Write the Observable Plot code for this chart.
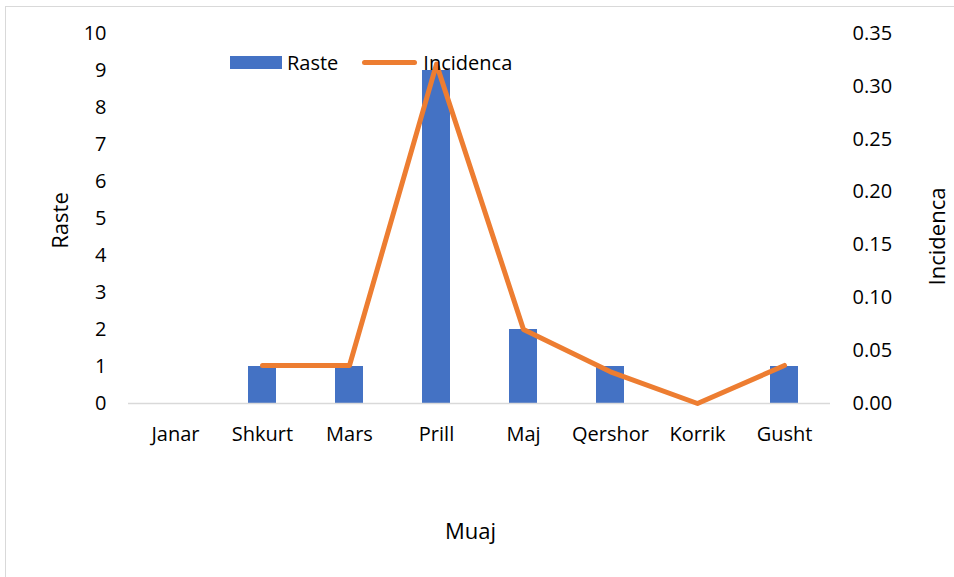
<!DOCTYPE html>
<html>
<head>
<meta charset="utf-8">
<script src="https://cdn.jsdelivr.net/npm/d3@7"></script>
<script src="https://cdn.jsdelivr.net/npm/@observablehq/plot@0.6"></script>
<style>
  html, body { margin: 0; padding: 0; background: #fff; }
  body { width: 954px; height: 577px; position: relative; overflow: hidden; font-family: "Open Sans", "Noto Sans", sans-serif; }
  #frame { position: absolute; left: 5px; top: 6px; width: 1000px; height: 700px; border: 1px solid #d9d9d9; box-sizing: border-box; }
  #chart { position: absolute; left: 0; top: 0; }
  .legend { position: absolute; top: 49px; left: 230px; display: flex; align-items: center; font-size: 20px; color: #000; }
  .sw-bar { width: 52px; height: 13px; background: #4472C4; margin-right: 5px; }
  .sw-line { width: 55px; height: 5px; background: #ED7D31; border-radius: 3px; margin-left: 24px; margin-right: 6px; }
</style>
</head>
<body>
<div id="frame"></div>
<div id="chart"></div>
<div class="legend"><div class="sw-bar"></div><span>Raste</span><div class="sw-line"></div><span>Incidenca</span></div>
<script>
const months = ["Janar", "Shkurt", "Mars", "Prill", "Maj", "Qershor", "Korrik", "Gusht"];
const cases = [0, 1, 1, 9, 2, 1, 0, 1];
const incidence = [null, 0.036, 0.036, 0.321, 0.070, 0.030, 0, 0.036];
const leftTicks = [0, 1, 2, 3, 4, 5, 6, 7, 8, 9, 10];
const rightTicks = [0, 0.05, 0.10, 0.15, 0.20, 0.25, 0.30, 0.35];

const ratio = 10 / 0.35;
const data = months.map((m, i) => ({month: m, cases: cases[i], inc: incidence[i]}));
const lineData = data.filter(d => d.inc != null);

const chart = Plot.plot({
  width: 954,
  height: 577,
  marginTop: 33,
  marginBottom: 174,
  marginLeft: 128,
  marginRight: 124,
  style: {fontFamily: "Open Sans, Noto Sans, sans-serif", fontSize: "20px", color: "#000", background: "transparent"},
  x: {domain: months, paddingInner: 0.68, paddingOuter: 0.34, align: 0.5, axis: null},
  y: {domain: [0, 10], axis: null},
  marks: [
    Plot.barY(data, {x: "month", y: "cases", fill: "#4472C4"}),
    Plot.ruleY([0], {stroke: "#d9d9d9", strokeWidth: 1.5}),
    Plot.axisX({tickSize: 0, tickPadding: 23, label: null, fontSize: 20}),
    Plot.axisY(leftTicks, {anchor: "left", tickSize: 0, tickPadding: 22, label: null, fontSize: 20}),
    Plot.axisY(rightTicks.map(v => v * ratio), {anchor: "right", tickSize: 0, tickPadding: 22, label: null, fontSize: 20,
      tickFormat: d => (d / ratio).toFixed(2)}),
    Plot.line(lineData, {x: "month", y: d => d.inc * ratio, stroke: "#ED7D31", strokeWidth: 5, strokeLinecap: "round", strokeLinejoin: "round"}),
    Plot.text(["Raste"], {frameAnchor: "left", textAnchor: "middle", dx: -68, dy: 2, rotate: -90, fontSize: 22, text: d => d}),
    Plot.text(["Incidenca"], {frameAnchor: "right", textAnchor: "middle", dx: 107, dy: 18, rotate: -90, fontSize: 22, text: d => d}),
    Plot.text(["Muaj"], {frameAnchor: "bottom", textAnchor: "middle", dx: -9, dy: 135, fontSize: 22, text: d => d})
  ]
});
document.getElementById("chart").appendChild(chart);
</script>
</body>
</html>
